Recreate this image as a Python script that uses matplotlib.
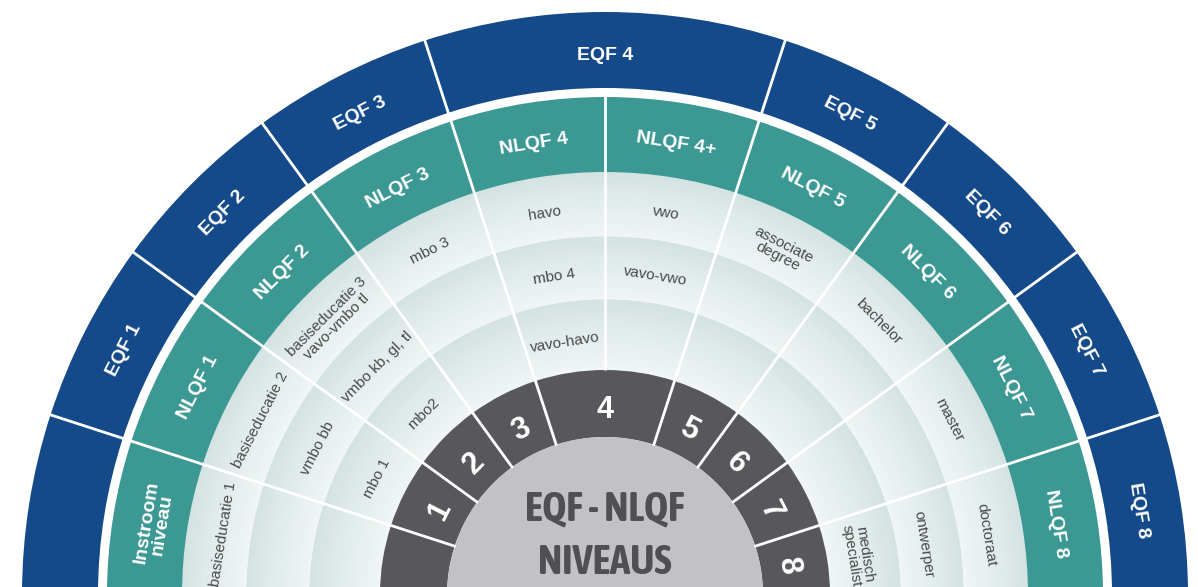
import numpy as np
import matplotlib
matplotlib.use("Agg")
import matplotlib.pyplot as plt
from matplotlib.patches import Wedge, Circle
from matplotlib import font_manager
import matplotlib.colors as mcolors

# ---------------- data ----------------
eqf_labels = ["", "EQF 1", "EQF 2", "EQF 3", "EQF 4", "EQF 5", "EQF 6", "EQF 7", "EQF 8"]
eqf_spans = [1, 1, 1, 1, 2, 1, 1, 1, 1]
nlqf_labels = ["Instroom\nniveau", "NLQF 1", "NLQF 2", "NLQF 3", "NLQF 4", "NLQF 4+",
               "NLQF 5", "NLQF 6", "NLQF 7", "NLQF 8"]
level_labels = ["", "1", "2", "3", "4", "5", "6", "7", "8"]
level_spans = [1, 1, 1, 1, 2, 1, 1, 1, 1]
outer_row = ["basiseducatie 1", "basiseducatie 2", "basiseducatie 3\nvavo-vmbo tl", "mbo 3",
             "havo", "vwo", "associate\ndegree", "bachelor", "master", "doctoraat"]
middle_row = ["", "vmbo bb", "vmbo kb, gl, tl", "", "mbo 4", "vavo-vwo", "", "", "", "ontwerper"]
inner_row = ["", "mbo 1", "mbo2", "", "vavo-havo", "", "", "", "", "medisch\nspecialist"]
center_lines = ["EQF - NLQF", "NIVEAUS"]

# ---------------- style ----------------
C_EQF = "#14498a"
C_NLQF = "#3b9893"
C_DARK = "#58585c"
C_GREY = "#c2c2c4"
C_TXT = "#4a4a4a"
BAND_OUT = "#d2e1e1"
BAND_IN = "#f0f5f5"

R_EQF = (507, 583)
R_NLQF = (423, 498)
BANDS = [(358, 423), (295, 358), (225, 295)]
R_LEV = (158, 225)

def pick_main():
    for f in ["Liberation Sans", "Arial", "DejaVu Sans"]:
        try:
            font_manager.findfont(font_manager.FontProperties(family=f), fallback_to_default=False)
            return f
        except Exception:
            continue
    return "DejaVu Sans"

def pick_narrow():
    for fe in font_manager.fontManager.ttflist:
        nm = fe.name.lower()
        if ("narrow" in nm or "condensed" in nm) and fe.weight in ("bold", 700, "700"):
            return fe.name
    for fe in font_manager.fontManager.ttflist:
        nm = fe.name.lower()
        if "narrow" in nm or "condensed" in nm:
            return fe.name
    return None

F_MAIN = pick_main()
F_NARROW = pick_narrow()

n_slots = len(nlqf_labels)
slot_deg = 180.0 / n_slots

def ang(pos):
    return 180.0 - pos * slot_deg

fig = plt.figure(figsize=(11.98, 5.87), dpi=100)
ax = fig.add_axes([0, 0, 1, 1])
ax.set_xlim(-605, 593)
ax.set_ylim(8, 595)
ax.set_aspect("equal")
ax.axis("off")

def tang_text(theta, r, s, size, color, weight="normal", family=F_MAIN, ls=1.0):
    t = np.deg2rad(theta)
    ax.text(r * np.cos(t), r * np.sin(t), s, rotation=theta - 90, rotation_mode="anchor",
            ha="center", va="center", fontsize=size, color=color, fontweight=weight,
            family=family, linespacing=ls, zorder=6)

def radial_line(theta, r0, r1, lw=2.0):
    t = np.deg2rad(theta)
    ax.plot([r0 * np.cos(t), r1 * np.cos(t)], [r0 * np.sin(t), r1 * np.sin(t)],
            color="white", lw=lw, solid_capstyle="butt", zorder=5)

# EQF ring
pos = 0
for lab, sp in zip(eqf_labels, eqf_spans):
    a1, a0 = ang(pos), ang(pos + sp)
    ax.add_patch(Wedge((0, 0), R_EQF[1], a0, a1, width=R_EQF[1] - R_EQF[0],
                       facecolor=C_EQF, edgecolor="none", zorder=2))
    if lab:
        tang_text((a0 + a1) / 2, sum(R_EQF) / 2 - 5, lab, 14, "white", "bold")
    if pos > 0:
        radial_line(a1, R_EQF[0] - 1, R_EQF[1] + 1)
    pos += sp

# NLQF ring
for i, lab in enumerate(nlqf_labels):
    a1, a0 = ang(i), ang(i + 1)
    ax.add_patch(Wedge((0, 0), R_NLQF[1], a0, a1, width=R_NLQF[1] - R_NLQF[0],
                       facecolor=C_NLQF, edgecolor="none", zorder=2))
    tang_text((a0 + a1) / 2, sum(R_NLQF) / 2 - 4, lab, 14, "white", "bold", ls=0.9)

# light bands with radial gradient (darker at outer edge, lighter inward)
c_out = np.array(mcolors.to_rgb(BAND_OUT))
c_in = np.array(mcolors.to_rgb(BAND_IN))
for r_in, r_out in BANDS:
    steps = 30
    edges = np.linspace(r_out, r_in, steps + 1)
    for k in range(steps):
        f = ((k + 0.5) / steps) ** 0.8
        col = c_out * (1 - f) + c_in * f
        ax.add_patch(Wedge((0, 0), edges[k] + 0.6, 0, 180, width=edges[k] - edges[k + 1] + 1.2,
                           facecolor=col, edgecolor="none", zorder=1))

rows = [outer_row, middle_row, inner_row]
for row, (r_in, r_out) in zip(rows, BANDS):
    rc = (r_in + r_out) / 2 - 4
    for i, lab in enumerate(row):
        if lab:
            tang_text((ang(i) + ang(i + 1)) / 2, rc, lab, 11, C_TXT, ls=0.95)

# dividers through NLQF ring and bands
for i in range(1, n_slots):
    radial_line(ang(i), R_LEV[1], R_NLQF[1] + 1)

# level ring
pos = 0
for lab, sp in zip(level_labels, level_spans):
    a1, a0 = ang(pos), ang(pos + sp)
    ax.add_patch(Wedge((0, 0), R_LEV[1], a0, a1, width=R_LEV[1] - R_LEV[0],
                       facecolor=C_DARK, edgecolor="none", zorder=2))
    if lab:
        tang_text((a0 + a1) / 2, sum(R_LEV) / 2 - 6, lab, 22, "white", "bold")
    if pos > 0:
        radial_line(a1, R_LEV[0] - 1, R_LEV[1] + 1)
    pos += sp

# center
ax.add_patch(Circle((0, 0), R_LEV[0], facecolor=C_GREY, edgecolor="none", zorder=3))
if F_NARROW:
    cfam, csize = F_NARROW, 29.5
else:
    cfam, csize = F_MAIN, 24
cap = 0.716 * csize * 100 / 72.0
for line, yc in zip(center_lines, [89, 36]):
    ax.text(0, yc - cap / 2, line, ha="center", va="baseline", fontsize=csize,
            fontweight="bold", color="#505052", family=cfam, zorder=6)

fig.savefig("out.png", dpi=100, facecolor="white")
